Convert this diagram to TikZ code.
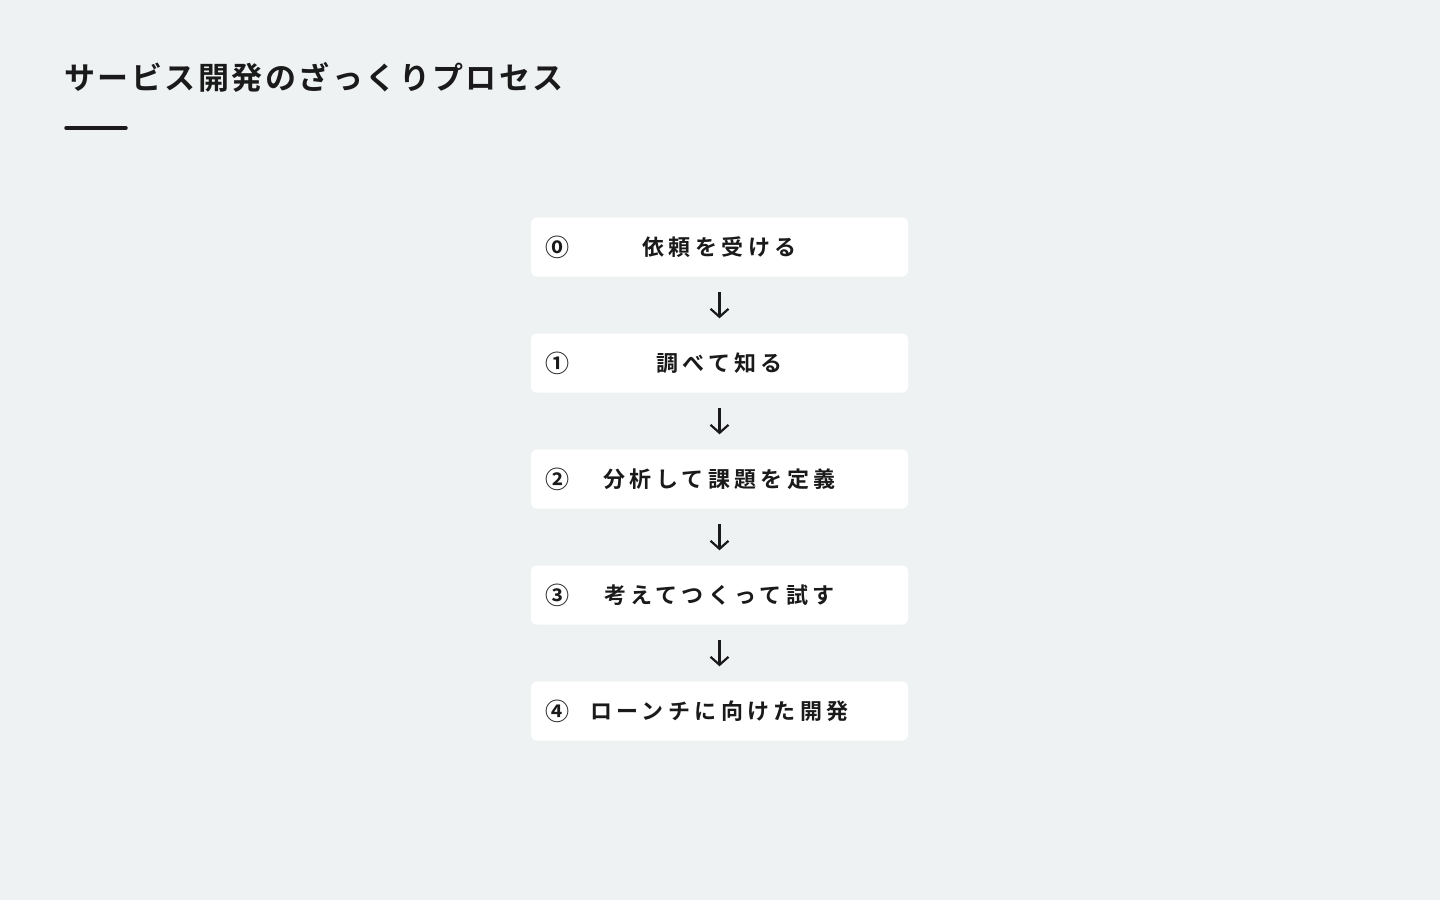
\documentclass[tikz,border=0pt]{standalone}
\usepackage{fontspec}
\usetikzlibrary{arrows.meta}
\newfontfamily\jptitle[LetterSpace=8]{Noto Sans CJK JP Bold}
\newfontfamily\jpbox[LetterSpace=20]{Noto Sans CJK JP Bold}
\newfontfamily\jpnum{Noto Sans CJK JP Bold}
\definecolor{bg}{HTML}{EFF2F3}
\definecolor{ink}{HTML}{1A1A1A}
\tikzset{
  stepbox/.style={draw=none, fill=white, rounded corners=6pt, minimum width=377pt, minimum height=59pt, inner sep=0pt},
  steplabel/.style={text=ink, font=\jpbox\fontsize{22pt}{26pt}\selectfont, inner sep=0pt},
  stepnum/.style={text=ink, font=\jpnum\fontsize{24pt}{26pt}\selectfont, inner sep=0pt},
  flow/.style={draw=ink, line width=2.2pt, -{Straight Barb[length=8pt,width=18pt,line width=2.2pt]}, shorten <=15pt, shorten >=15pt}
}
\begin{document}
\begin{tikzpicture}[x=1pt,y=-1pt]
\useasboundingbox (0,0) rectangle (1440,900);
\fill[bg] (0,0) rectangle (1440,900);
\node[anchor=west, text=ink, font=\jptitle\fontsize{31pt}{34pt}\selectfont, inner sep=0pt] (title) at (64,77) {サービス開発のざっくりプロセス};
\draw[ink, line width=3.5pt, line cap=round] (66,128) -- (126,128);
\foreach \i/\t/\n in {0/依頼を受ける/⓪, 1/調べて知る/①, 2/分析して課題を定義/②, 3/考えてつくって試す/③, 4/ローンチに向けた開発/④}{
  \node[stepbox] (b\i) at (719.5,{247+116*\i}) {};
  \node[steplabel] (t\i) at (b\i.center) {\t};
  \node[stepnum] (n\i) at ([xshift=27pt]b\i.west) {\n};
}
\foreach \a/\b in {0/1,1/2,2/3,3/4}{
  \draw[flow] (b\a.south) -- (b\b.north);
}
\end{tikzpicture}
\end{document}
